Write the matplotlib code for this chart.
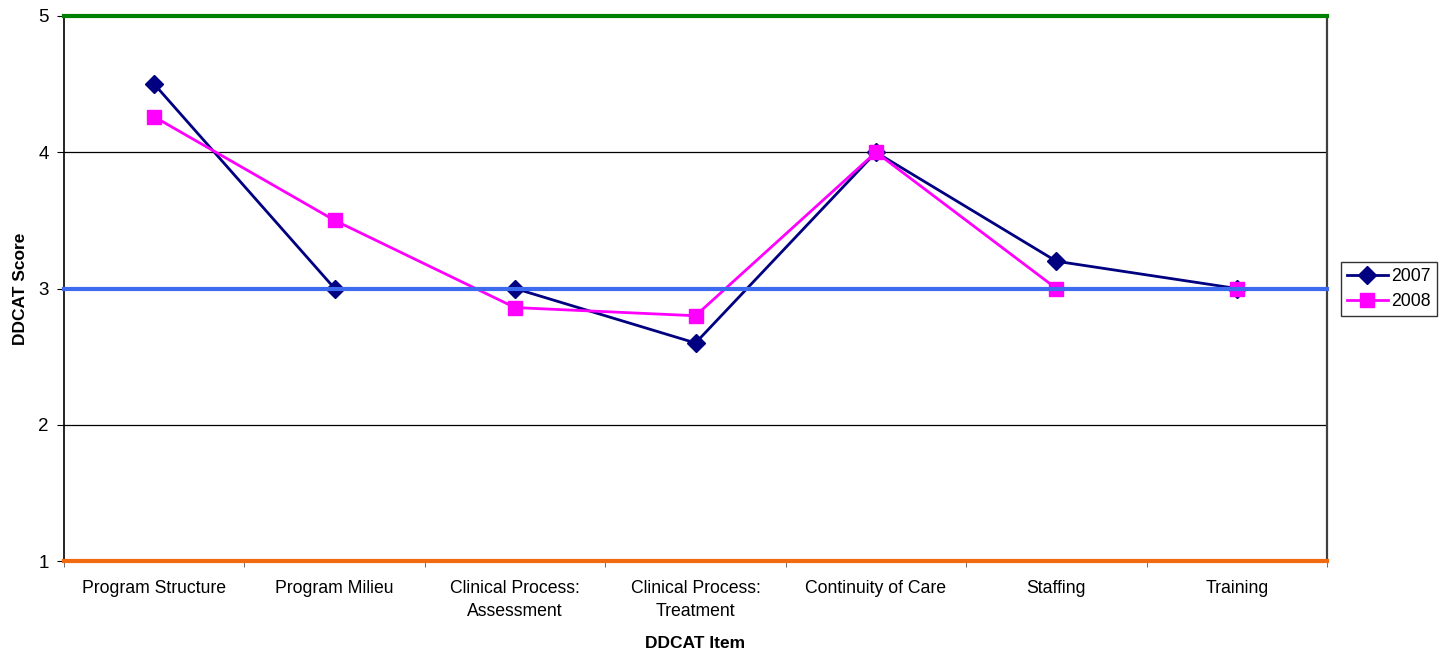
import matplotlib
matplotlib.use("Agg")
import matplotlib.pyplot as plt
import numpy as np

plt.rcParams['font.family'] = ['Liberation Sans', 'DejaVu Sans']

categories = ["Program Structure", "Program Milieu", "Clinical Process:\nAssessment",
              "Clinical Process:\nTreatment", "Continuity of Care", "Staffing", "Training"]
scores_2007 = [4.5, 3.0, 3.0, 2.6, 4.0, 3.2, 3.0]
scores_2008 = [4.26, 3.5, 2.86, 2.8, 4.0, 3.0, 3.0]
y_ticks = [1, 2, 3, 4, 5]
reference_levels = [5, 3, 1]
reference_colors = ["#008000", "#3D6BF0", "#F26A10"]

fig = plt.figure(figsize=(14.41, 6.54), dpi=100)
ax = fig.add_axes([64 / 1441, 93 / 654, (1327 - 64) / 1441, (561 - 16) / 654])

x = np.arange(len(categories))
ax.set_xlim(-0.5, len(categories) - 0.5)
ax.set_ylim(1, 5)

# horizontal gridlines
for yv in [2, 4]:
    ax.axhline(yv, color="black", lw=0.9, zorder=1)

ax.plot(x, scores_2007, color="#000080", lw=2, marker="D", markersize=9,
        label="2007", zorder=3)
ax.plot(x, scores_2008, color="#FF00FF", lw=2, marker="s", markersize=10,
        label="2008", zorder=3)

# benchmark lines
for lvl, col in zip(reference_levels, reference_colors):
    ax.axhline(lvl, color=col, lw=3, zorder=4, clip_on=False)

ax.set_yticks(y_ticks)
ax.set_yticklabels([str(v) for v in y_ticks], fontsize=13.5)
ax.set_xticks(x)
ax.set_xticklabels(categories, fontsize=12.7, linespacing=1.45)
ax.tick_params(axis="x", length=0, pad=14)
ax.set_xticks(np.arange(len(categories) + 1) - 0.5, minor=True)
ax.tick_params(axis="x", which="minor", length=4, direction="out", color="#555555")
ax.tick_params(axis="y", length=5, direction="out", pad=6)

ax.spines["top"].set_visible(False)
ax.spines["bottom"].set_visible(False)
ax.spines["left"].set_color("black")
ax.spines["left"].set_linewidth(1.2)
ax.spines["right"].set_color("#404040")
ax.spines["right"].set_linewidth(1.6)

ax.set_xlabel("DDCAT Item", fontsize=12.5, fontweight="bold")
ax.xaxis.set_label_coords(0.5, -(643 - 561) / 545, transform=ax.transAxes)
ax.xaxis.label.set_va("center")
ax.set_ylabel("DDCAT Score", fontsize=12.5, fontweight="bold")
ax.yaxis.set_label_coords(-(64 - 21) / 1263, 0.5, transform=ax.transAxes)
ax.yaxis.label.set_va("center")

leg = ax.legend(loc="center left", bbox_to_anchor=(1341 / 1441, 1 - 289 / 654),
                bbox_transform=fig.transFigure, fontsize=12.7,
                frameon=True, fancybox=False, edgecolor="black", handlelength=2.3,
                borderpad=0.35, labelspacing=0.45, handletextpad=0.2, borderaxespad=0)
leg.get_frame().set_linewidth(1.0)

fig.savefig("out.png", dpi=100)
